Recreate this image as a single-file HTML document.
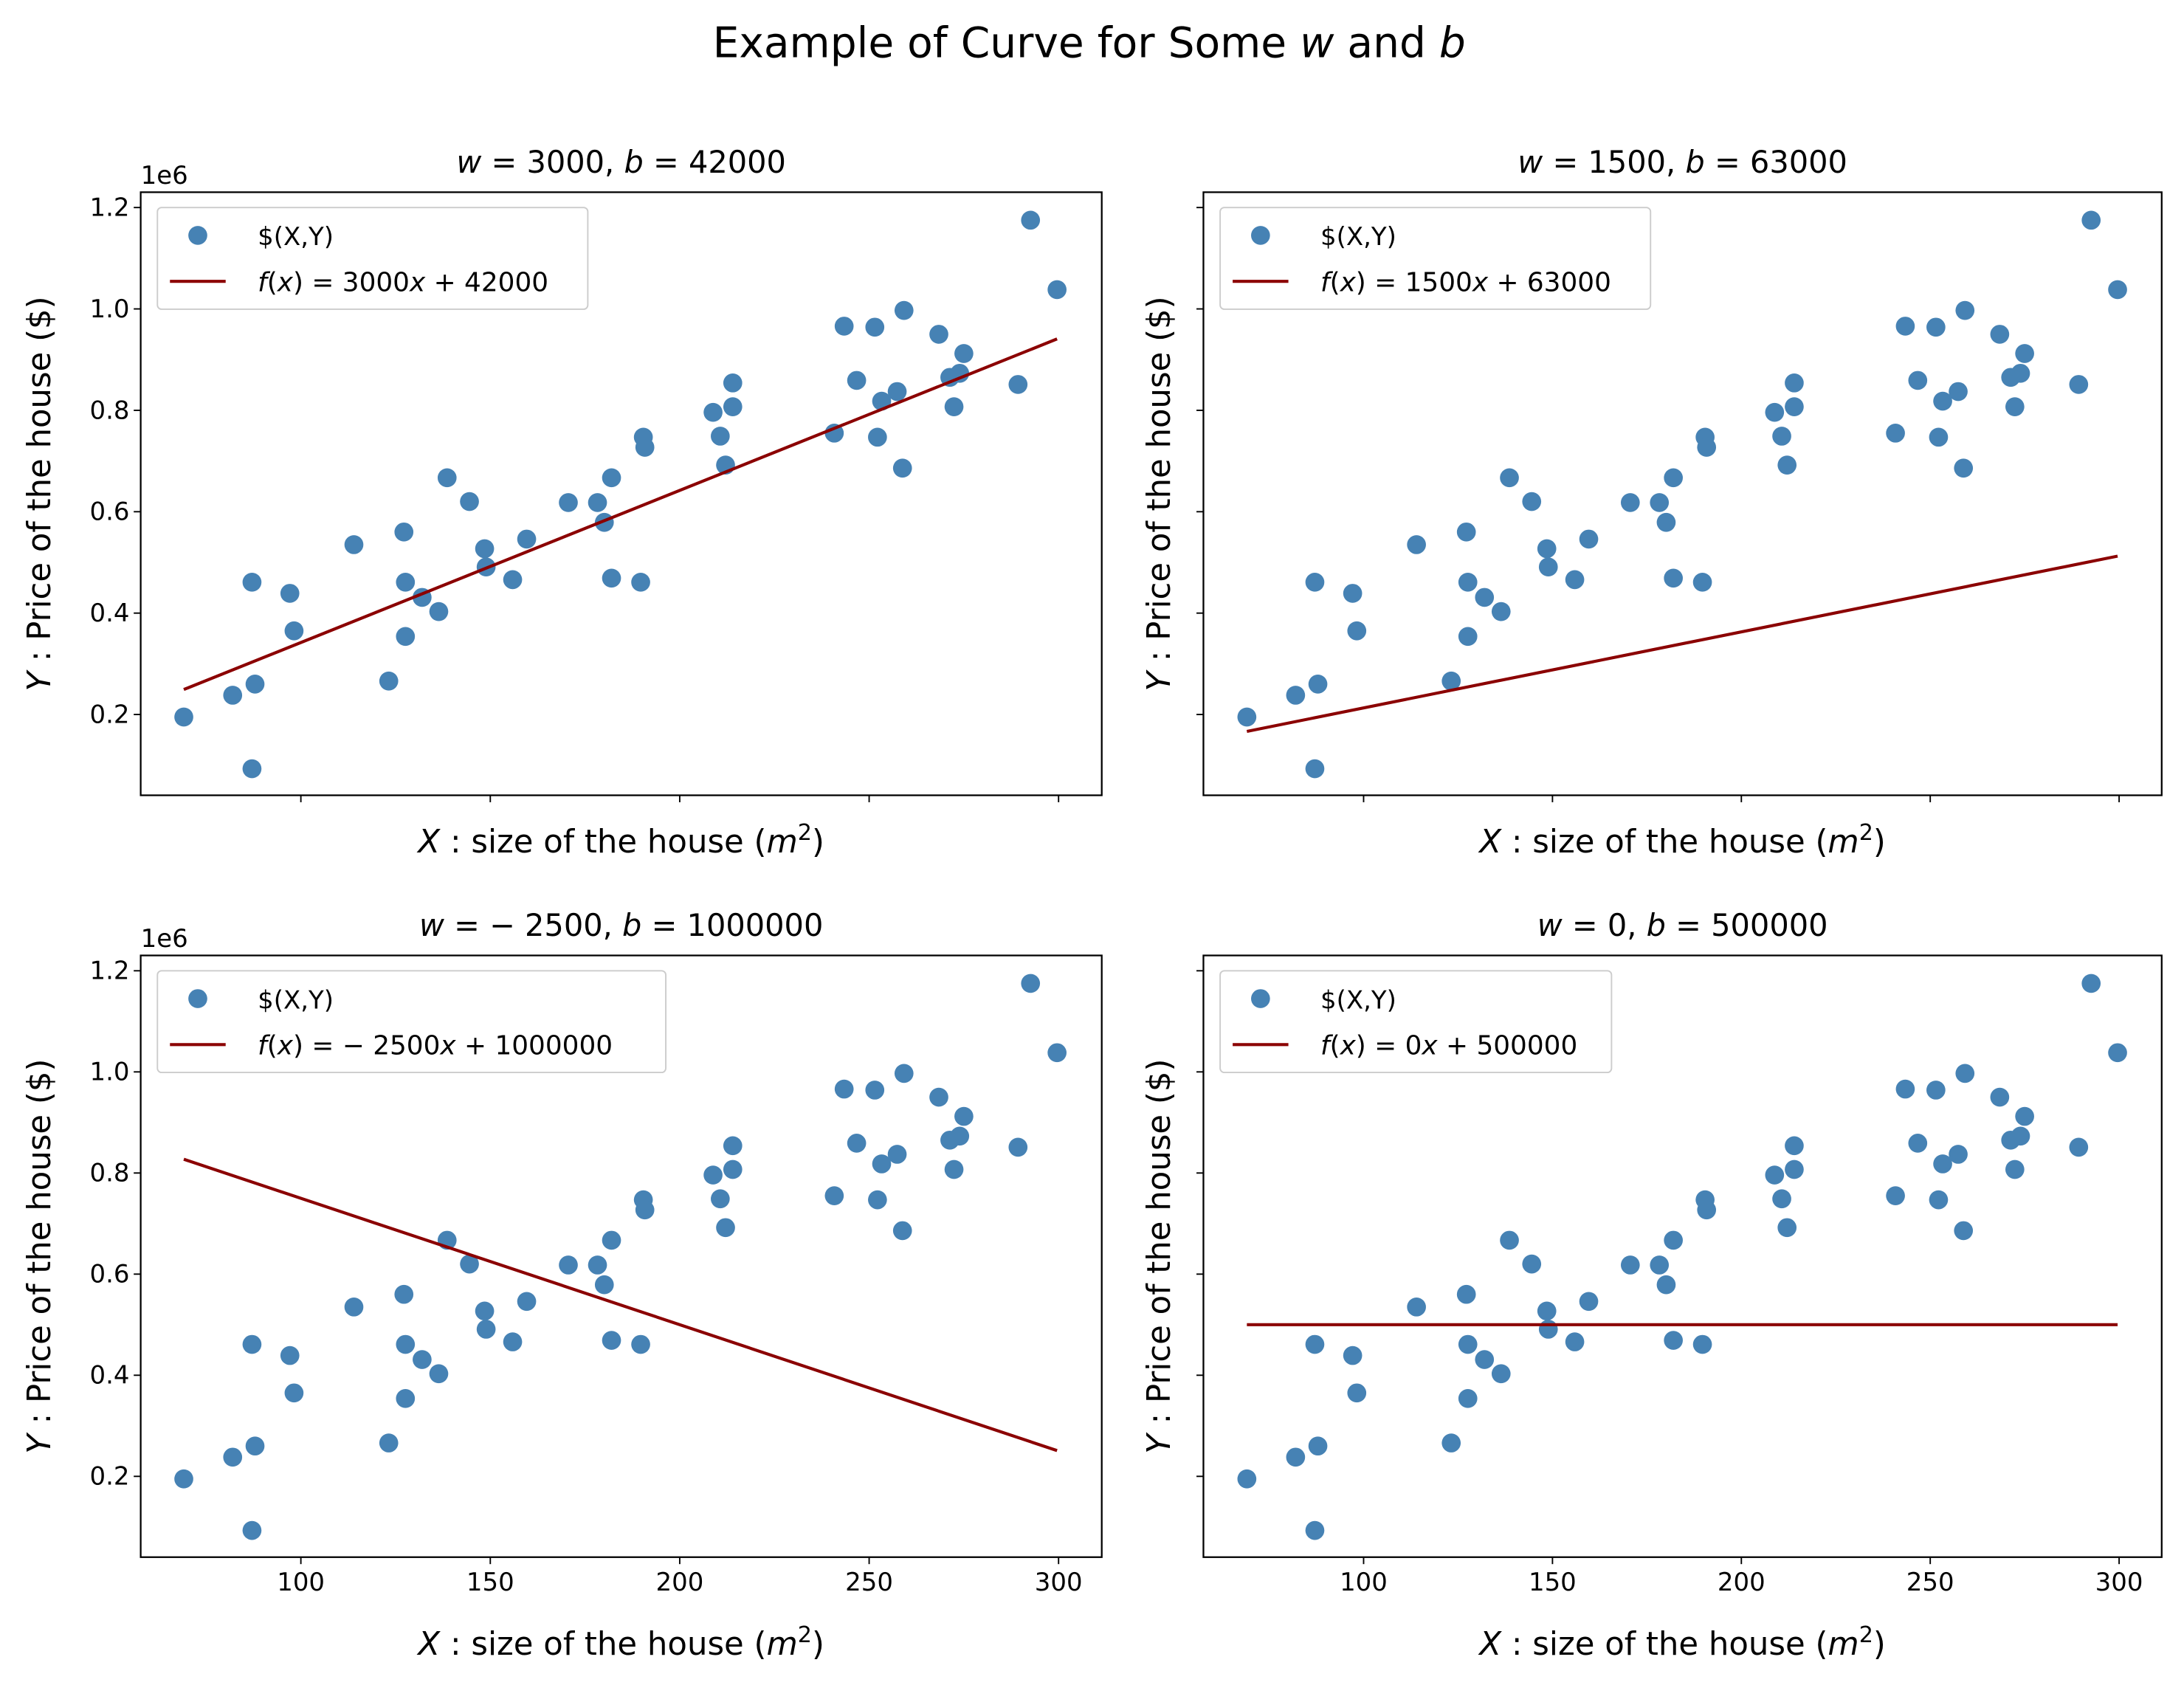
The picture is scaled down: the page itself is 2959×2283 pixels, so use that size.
<!DOCTYPE html>
<html><head><meta charset="utf-8"><style>
html,body{margin:0;padding:0;background:#fff;}
svg{display:block;}
text{font-family:"DejaVu Sans","Liberation Sans",sans-serif;fill:#000;}
</style></head><body>
<svg id="fig" width="2959" height="2283" viewBox="0 0 1568 1209.8" xmlns="http://www.w3.org/2000/svg">
<rect width="1568" height="1210" fill="#fff"/>
<text x="782" y="41" font-size="30" text-anchor="middle">Example of Curve for Some <tspan font-style="italic">w</tspan> and <tspan font-style="italic">b</tspan></text>
</svg>
<script>
const xs=[69.1,82,87.1,87.1,87.9,97.1,98.2,114,123.2,127.2,127.6,127.6,132,136.4,138.6,144.5,148.5,148.9,155.9,159.6,170.6,178.3,180.1,182,182,189.7,190.4,190.8,208.8,210.7,212.1,214,214,240.8,243.4,246.7,251.5,252.2,253.3,257.4,259.2,258.8,268.4,271.3,272.4,273.9,275,289.3,292.6,299.6];
const ys=[0.195,0.238,0.093,0.461,0.26,0.439,0.365,0.535,0.266,0.56,0.461,0.354,0.431,0.403,0.667,0.62,0.527,0.491,0.466,0.546,0.618,0.618,0.579,0.667,0.469,0.461,0.747,0.727,0.796,0.749,0.692,0.854,0.807,0.755,0.966,0.859,0.964,0.747,0.818,0.837,0.997,0.686,0.95,0.865,0.807,0.873,0.912,0.851,1.175,1.038];
const ws=[3000,1500,-2500,0];
const bs=[42000,63000,1000000,500000];
const xTicks=[100,150,200,250,300];
const yTicks=[0.2,0.4,0.6,0.8,1.0,1.2];
const NS="http://www.w3.org/2000/svg";
const svg=document.getElementById('fig');
function mk(tag,attrs,parent){const e=document.createElementNS(NS,tag);for(const k in attrs)e.setAttribute(k,attrs[k]);(parent||svg).appendChild(e);return e;}
const panels=[{l:101,r:791,t:138,b:571,ly:true,lx:false,lw:309},{l:864,r:1552,t:138,b:571,ly:false,lx:false,lw:309},{l:101,r:791,t:686,b:1118,ly:true,lx:true,lw:365},{l:864,r:1552,t:686,b:1118,ly:false,lx:true,lw:281}];
panels.forEach((p,i)=>{
  const g=mk('g',{});
  
  
  const yScale=(p.b-p.t-69);
  const syy=v=>(p.b-58)-(v-0.2)*yScale;
  const fr=mk('rect',{x:p.l,y:p.t,width:p.r-p.l,height:p.b-p.t,fill:'none',stroke:'#000','stroke-width':1.2},g);
  
  
  const X=v=>p.l+115+(v-100)*2.72*(p.r-p.l)/690;
  xTicks.forEach(v=>{
    mk('line',{x1:X(v),x2:X(v),y1:p.b,y2:p.b+5,stroke:'#000','stroke-width':1},g);
    if(p.lx){const t=mk('text',{x:X(v),y:p.b+24,'font-size':18,'text-anchor':'middle'},g);t.textContent=String(v);
      
      }
  });
  yTicks.forEach(v=>{
    mk('line',{x1:p.l-5,x2:p.l,y1:syy(v),y2:syy(v),stroke:'#000','stroke-width':1},g);
    if(p.ly){const t=mk('text',{x:p.l-8,y:syy(v)+6,'font-size':18,'text-anchor':'end'},g);t.textContent=v.toFixed(1);
      
      }
  });
  if(p.ly){const o=mk('text',{x:p.l,y:p.t-6,'font-size':18},g);o.textContent='1e6';
    
    }
  xs.forEach((x,k)=>{const c=mk('circle',{cx:X(x),cy:syy(ys[k]),r:6.8,fill:'#4682b4'},g);
    
    });
  const x0=Math.min(...xs),x1=Math.max(...xs);
  const ln=mk('line',{x1:X(x0),y1:syy((ws[i]*x0+bs[i])/1e6),x2:X(x1),y2:syy((ws[i]*x1+bs[i])/1e6),stroke:'#8b0000','stroke-width':2.2},g);
  
  
  const cx=(p.l+p.r)/2;
  const tt=mk('text',{x:cx,y:p.t-14,'font-size':22,'text-anchor':'middle'},g);
  tt.innerHTML='<tspan font-style="italic">w</tspan> = '+(ws[i]<0?'− '+(-ws[i]):ws[i])+',  <tspan font-style="italic">b</tspan> = '+bs[i];
  
  
  const xl=mk('text',{x:cx,y:p.b+(p.lx?70:41),'font-size':23,'text-anchor':'middle'},g);
  xl.innerHTML='<tspan font-style="italic">X</tspan> : size of the house (<tspan font-style="italic">m</tspan><tspan font-size="16" dy="-9">2</tspan><tspan dy="9">)</tspan>';
  
  
  const yx=p.ly?p.l-65:p.l-24;
  const yl=mk('text',{x:0,y:0,'font-size':23,'text-anchor':'middle',transform:'translate('+yx+','+((p.t+p.b)/2)+') rotate(-90)'},g);
  yl.innerHTML='<tspan font-style="italic">Y</tspan> : Price of the house ($)';
  
  
  const lg=mk('g',{},g);
  
  
  mk('rect',{x:p.l+12,y:p.t+11,width:p.lw,height:73,rx:3,fill:'#fff','fill-opacity':0.8,stroke:'#ccc','stroke-width':1},lg);
  mk('circle',{cx:p.l+41,cy:p.t+31,r:6.8,fill:'#4682b4'},lg);
  const t1=mk('text',{x:p.l+84,y:p.t+38,'font-size':18},lg);t1.textContent='$(X,Y)';
  
  
  mk('line',{x1:p.l+21,x2:p.l+61,y1:p.t+64,y2:p.t+64,stroke:'#8b0000','stroke-width':2.2},lg);
  const t2=mk('text',{x:p.l+84,y:p.t+71,'font-size':19},lg);
  t2.innerHTML='<tspan font-style="italic">f</tspan>(<tspan font-style="italic">x</tspan>) = '+(ws[i]<0?'− '+(-ws[i]):ws[i])+'<tspan font-style="italic">x</tspan> + '+bs[i];
  
  
});
</script>
</body></html>
